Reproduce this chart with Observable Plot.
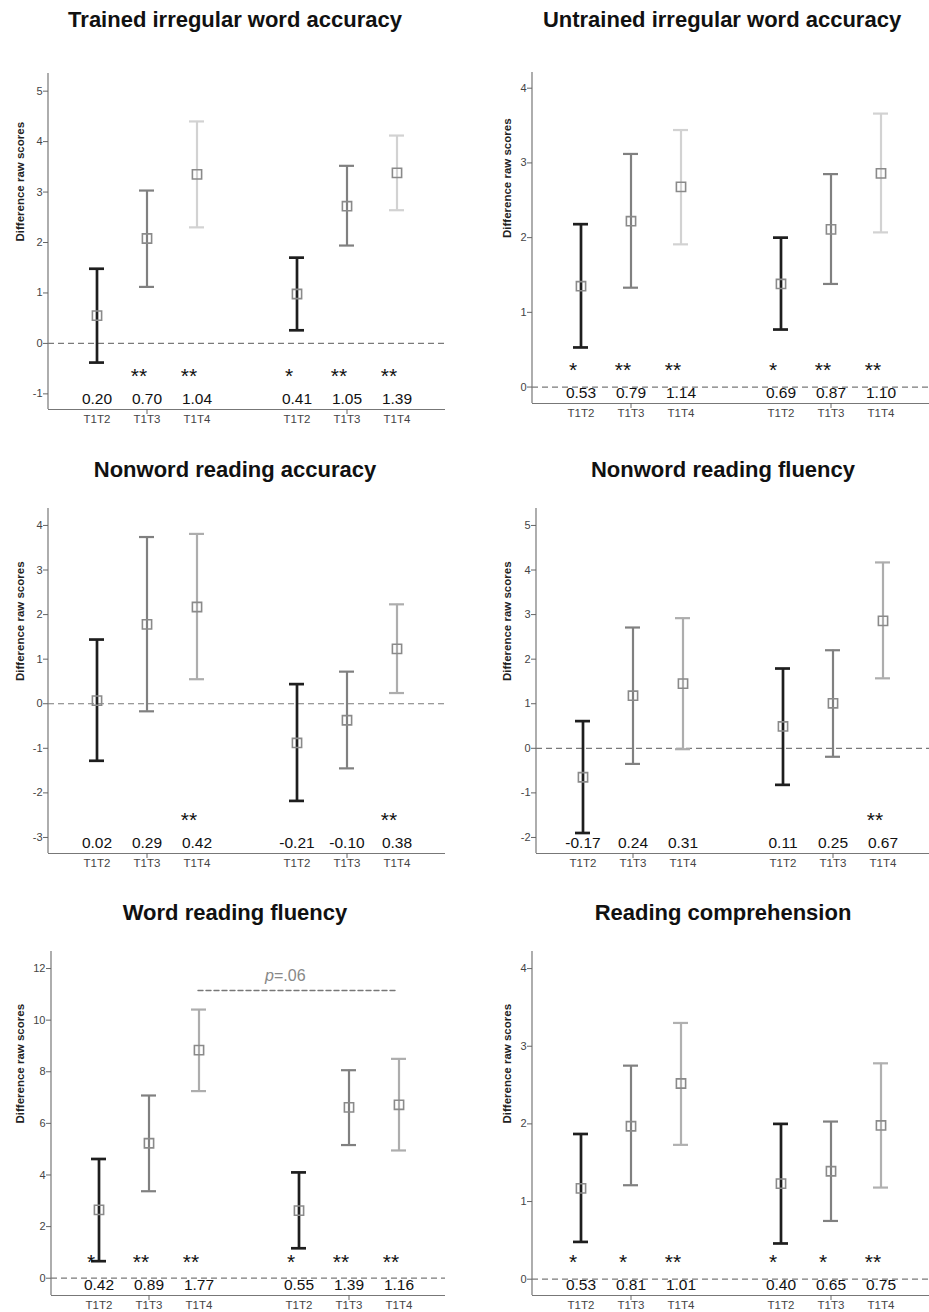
<!DOCTYPE html>
<html><head><meta charset="utf-8">
<script src="https://cdn.jsdelivr.net/npm/d3@7"></script>
<script src="https://cdn.jsdelivr.net/npm/@observablehq/plot@0.6"></script>
<style>
body{margin:0;background:#fff;width:929px;height:1312px;position:relative;overflow:hidden;font-family:"Liberation Sans",Arial,sans-serif}
.panel{position:absolute}
.title{position:absolute;font-weight:bold;font-size:22px;color:#111;white-space:nowrap;transform:translate(-50%,-50%)}
</style></head><body>
<script>
// ---------- data ----------
const categories = ["T1T2", "T1T3", "T1T4"];
const groups = ["A", "B"];

const trainedMean = [0.55, 2.08, 3.35, 0.98, 2.72, 3.38];
const trainedLow  = [-0.38, 1.12, 2.30, 0.26, 1.94, 2.64];
const trainedHigh = [1.48, 3.03, 4.40, 1.70, 3.52, 4.12];
const trainedStars = ["", "**", "**", "*", "**", "**"];
const trainedD = ["0.20", "0.70", "1.04", "0.41", "1.05", "1.39"];
const trainedTicks = [-1, 0, 1, 2, 3, 4, 5];

const untrainedMean = [1.35, 2.22, 2.68, 1.38, 2.11, 2.86];
const untrainedLow  = [0.53, 1.33, 1.91, 0.77, 1.38, 2.07];
const untrainedHigh = [2.18, 3.12, 3.44, 2.00, 2.85, 3.66];
const untrainedStars = ["*", "**", "**", "*", "**", "**"];
const untrainedD = ["0.53", "0.79", "1.14", "0.69", "0.87", "1.10"];
const untrainedTicks = [0, 1, 2, 3, 4];

const nwAccMean = [0.07, 1.78, 2.17, -0.88, -0.37, 1.23];
const nwAccLow  = [-1.28, -0.17, 0.55, -2.18, -1.45, 0.24];
const nwAccHigh = [1.44, 3.74, 3.81, 0.44, 0.72, 2.23];
const nwAccStars = ["", "", "**", "", "", "**"];
const nwAccD = ["0.02", "0.29", "0.42", "-0.21", "-0.10", "0.38"];
const nwAccTicks = [-3, -2, -1, 0, 1, 2, 3, 4];

const nwFluMean = [-0.65, 1.18, 1.45, 0.49, 1.01, 2.86];
const nwFluLow  = [-1.90, -0.35, -0.02, -0.82, -0.19, 1.57];
const nwFluHigh = [0.61, 2.71, 2.92, 1.79, 2.20, 4.17];
const nwFluStars = ["", "", "", "", "", "**"];
const nwFluD = ["-0.17", "0.24", "0.31", "0.11", "0.25", "0.67"];
const nwFluTicks = [-2, -1, 0, 1, 2, 3, 4, 5];

const wordFluMean = [2.65, 5.23, 8.84, 2.62, 6.62, 6.72];
const wordFluLow  = [0.66, 3.37, 7.25, 1.16, 5.16, 4.95];
const wordFluHigh = [4.62, 7.08, 10.41, 4.10, 8.06, 8.50];
const wordFluStars = ["*", "**", "**", "*", "**", "**"];
const wordFluD = ["0.42", "0.89", "1.77", "0.55", "1.39", "1.16"];
const wordFluTicks = [0, 2, 4, 6, 8, 10, 12];
const wordFluPValue = 11.15;
const wordFluPText = ["p", "=.06"];

const compMean = [1.17, 1.97, 2.52, 1.23, 1.39, 1.98];
const compLow  = [0.48, 1.21, 1.73, 0.46, 0.75, 1.18];
const compHigh = [1.87, 2.75, 3.30, 2.00, 2.03, 2.78];
const compStars = ["*", "*", "**", "*", "*", "**"];
const compD = ["0.53", "0.81", "1.01", "0.40", "0.65", "0.75"];
const compTicks = [0, 1, 2, 3, 4];

// ---------- layout ----------
const panels = [
  {title: "Trained irregular word accuracy", tx: 235, ty: 20, ax: 48, right: 445, top: 73, bottom: 409, yDomain: [-1.31, 5.35],
   mean: trainedMean, low: trainedLow, high: trainedHigh, stars: trainedStars, d: trainedD, ticks: trainedTicks, light: "#d2d2d2", lab: 28},
  {title: "Untrained irregular word accuracy", tx: 722, ty: 20, ax: 532, right: 929, top: 72, bottom: 403, yDomain: [-0.22, 4.21],
   mean: untrainedMean, low: untrainedLow, high: untrainedHigh, stars: untrainedStars, d: untrainedD, ticks: untrainedTicks, light: "#d2d2d2", lab: 25},
  {title: "Nonword reading accuracy", tx: 235, ty: 470, ax: 48, right: 445, top: 508, bottom: 853, yDomain: [-3.36, 4.38],
   mean: nwAccMean, low: nwAccLow, high: nwAccHigh, stars: nwAccStars, d: nwAccD, ticks: nwAccTicks, light: "#adadad", lab: 28},
  {title: "Nonword reading fluency", tx: 723, ty: 470, ax: 536, right: 929, top: 508, bottom: 853, yDomain: [-2.36, 5.38],
   mean: nwFluMean, low: nwFluLow, high: nwFluHigh, stars: nwFluStars, d: nwFluD, ticks: nwFluTicks, light: "#adadad", lab: 29},
  {title: "Word reading fluency", tx: 235, ty: 913, ax: 51, right: 445, top: 951, bottom: 1295, yDomain: [-0.67, 12.66],
   mean: wordFluMean, low: wordFluLow, high: wordFluHigh, stars: wordFluStars, d: wordFluD, ticks: wordFluTicks, light: "#adadad", lab: 31, pline: true},
  {title: "Reading comprehension", tx: 723, ty: 913, ax: 532, right: 929, top: 951, bottom: 1295, yDomain: [-0.21, 4.22],
   mean: compMean, low: compLow, high: compHigh, stars: compStars, d: compD, ticks: compTicks, light: "#b0b0b0", lab: 25}
];

const keys = groups.flatMap(g => categories.map(c => g + " " + c));
const xDomain = [...keys.slice(0, 3), "gap", ...keys.slice(3)];

function leftAxisLine(index, scales, values, dims) {
  return d3.create("svg:line")
    .attr("x1", dims.marginLeft).attr("x2", dims.marginLeft)
    .attr("y1", dims.marginTop).attr("y2", dims.height - dims.marginBottom)
    .attr("stroke", "#777").attr("stroke-width", 1.2).node();
}

for (const p of panels) {
  const rows = keys.map((k, i) => ({key: k, cat: categories[i % 3], mean: p.mean[i], lo: p.low[i], hi: p.high[i], star: p.stars[i], d: p.d[i]}));
  const ml = 48, mt = 10, mb = 30;
  const mr = p.right >= 929 ? 0 : 10;
  const innerW = p.right - p.ax, innerH = p.bottom - p.top;
  const sw = d => d.cat === "T1T2" ? 2.7 : 2.2;
  const marks = [
    Plot.ruleY([0], {stroke: "#7a7a7a", strokeWidth: 1.2, strokeDasharray: "6,4"}),
    Plot.ruleY([p.yDomain[0]], {stroke: "#777", strokeWidth: 1.2}),
    leftAxisLine,
    Plot.axisY({ticks: p.ticks, tickFormat: v => String(v), tickSize: 5, tickPadding: 1, fontSize: 11, stroke: "#666", fill: "#444", label: null}),
    Plot.axisX({ticks: keys, tickFormat: k => k.split(" ")[1], tickSize: 0, tickPadding: 5, fontSize: 11.5, fill: "#444", label: null}),
    Plot.axisX({ticks: [keys[1], keys[4]], tickFormat: () => "", tickSize: 5, stroke: "#666", label: null}),
    Plot.text(["Difference raw scores"], {frameAnchor: "left", rotate: -90, dx: -p.lab, fontWeight: "bold", fontSize: 11.5, fill: "#222"}),
    Plot.ruleX(rows, {x: "key", y1: "lo", y2: "hi", stroke: "cat", strokeWidth: sw}),
    Plot.tickY(rows, {x: "key", y: "lo", stroke: "cat", strokeWidth: sw}),
    Plot.tickY(rows, {x: "key", y: "hi", stroke: "cat", strokeWidth: sw}),
    Plot.dot(rows, {x: "key", y: "mean", symbol: "square", r: 5.2, stroke: "#8a8a8a", strokeWidth: 1.6, fill: "none"}),
    Plot.text(rows, {x: "key", text: "star", frameAnchor: "bottom", dy: -27, dx: -8, fontSize: 21, fill: "#111"}),
    Plot.text(rows, {x: "key", text: "d", frameAnchor: "bottom", dy: -6, fontSize: 15.5, fill: "#111"})
  ];
  if (p.pline) {
    const pl = [{x: keys[2], y: wordFluPValue}, {x: keys[5], y: wordFluPValue}];
    marks.push(Plot.line(pl, {x: "x", y: "y", stroke: "#777", strokeWidth: 1.4, strokeDasharray: "5,3", dx: -1}));
    marks.push(Plot.text([{x: "gap", y: wordFluPValue}], {x: "x", y: "y", text: () => wordFluPText[0], fontStyle: "italic", textAnchor: "end", dx: 25, dy: -15, fontSize: 16, fill: "#888"}));
    marks.push(Plot.text([{x: "gap", y: wordFluPValue}], {x: "x", y: "y", text: () => wordFluPText[1], textAnchor: "start", dx: 25, dy: -15, fontSize: 16, fill: "#888"}));
  }
  const chart = Plot.plot({
    width: ml + innerW + mr, height: mt + innerH + mb,
    marginLeft: ml, marginRight: mr, marginTop: mt, marginBottom: mb,
    style: {fontFamily: "'Liberation Sans', Arial, sans-serif", background: "transparent", overflow: "visible", color: "#444"},
    x: {type: "band", domain: xDomain, paddingInner: 0.7, paddingOuter: 0.75, axis: null},
    y: {domain: p.yDomain, axis: null},
    color: {type: "ordinal", domain: categories, range: ["#1e1e1e", "#808080", p.light]},
    marks
  });
  const wrap = document.createElement("div");
  wrap.className = "panel";
  wrap.style.left = (p.ax - ml) + "px";
  wrap.style.top = (p.top - mt) + "px";
  wrap.appendChild(chart);
  document.body.appendChild(wrap);
  const t = document.createElement("div");
  t.className = "title";
  t.textContent = p.title;
  t.style.left = p.tx + "px";
  t.style.top = p.ty + "px";
  document.body.appendChild(t);
}
</script>
</body></html>
